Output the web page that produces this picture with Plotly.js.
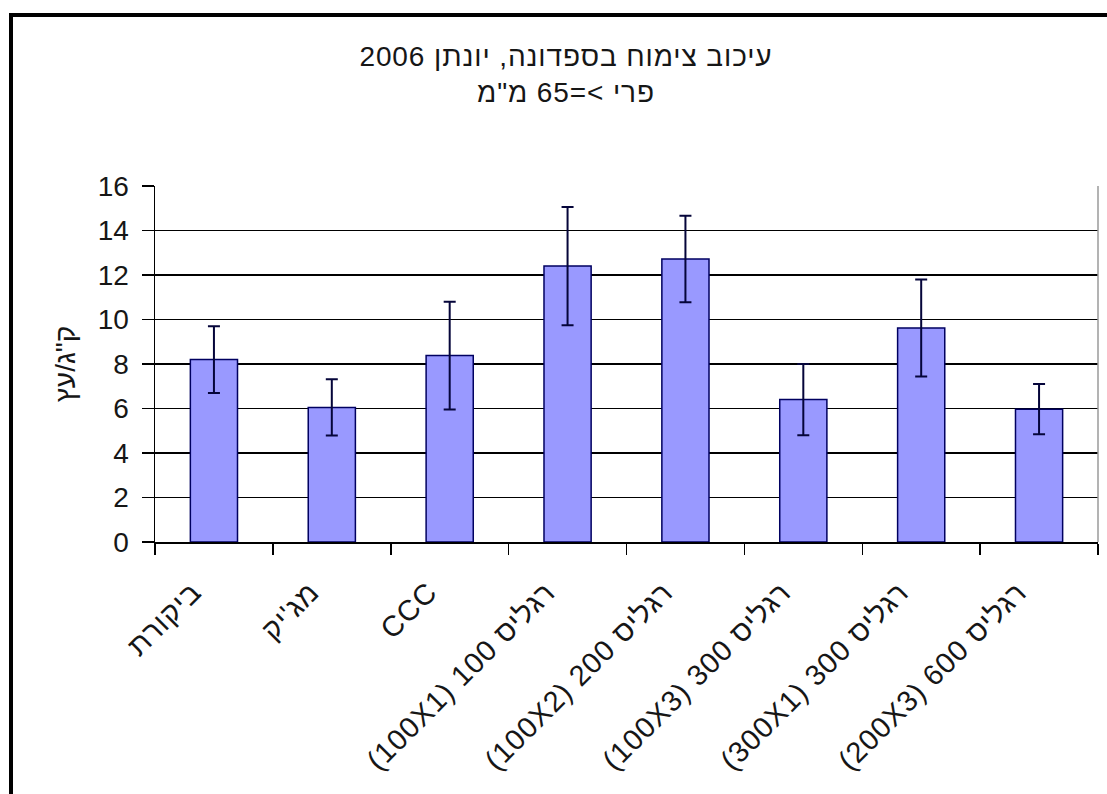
<!DOCTYPE html>
<html>
<head>
<meta charset="utf-8">
<script src="https://cdn.plot.ly/plotly-3.0.1.min.js"></script>
<style>
html,body{margin:0;padding:0;background:#fff;}
#chart{width:1107px;height:794px;}
#chart .xtick text{letter-spacing:1px;}
#chart .gtitle{letter-spacing:0.9px;}
</style>
</head>
<body>
<div id="chart"></div>
<script>
// Data
const categories = [
  "ביקורת",
  "מג'יק",
  "CCC",
  "(100X1) 100 רגליס",
  "(100X2) 200 רגליס",
  "(100X3) 300 רגליס",
  "(300X1) 300 רגליס",
  "(200X3) 600 רגליס"
];
const values = [8.2, 6.05, 8.38, 12.4, 12.72, 6.4, 9.62, 5.97];
const errors = [1.5, 1.26, 2.42, 2.66, 1.94, 1.6, 2.18, 1.13];
const yTickVals = [0, 2, 4, 6, 8, 10, 12, 14, 16];

const titleLine1 = "עיכוב צימוח בספדונה, יונתן 2006";
const titleLine2 = 'פרי >=65 מ"מ';
const yTitle = 'ק"ג/עץ';

// Layout geometry (pixels)
const W = 1107, H = 794;
const L = 155, R = 1098, T = 186, B = 542;
const pw = R - L, ph = B - T;
const px = x => (x - L) / pw;
const py = y => (B - y) / ph;

const font = "Liberation Sans, Arial, DejaVu Sans, sans-serif";
const txt = '#161616';

const trace = {
  type: 'bar',
  x: categories,
  y: values,
  marker: {color: '#9999FF', line: {color: '#000060', width: 1.5}},
  error_y: {type: 'data', array: errors, visible: true, color: '#05053a', thickness: 2, width: 6}
};

const layout = {
  width: W, height: H,
  margin: {l: L, r: W - R, t: T, b: H - B, pad: 0},
  paper_bgcolor: '#ffffff',
  plot_bgcolor: '#ffffff',
  showlegend: false,
  bargap: 0.6,
  font: {family: font, size: 28, color: txt},
  title: {
    text: titleLine1 + '<br>' + titleLine2,
    x: 566 / W, xanchor: 'center', xref: 'container',
    y: 1 - 66 / H, yanchor: 'top', yref: 'container',
    font: {family: font, size: 28, color: txt}
  },
  xaxis: {
    type: 'category',
    tickangle: -45,
    ticks: 'outside', ticklen: 11, tickcolor: '#000', tickwidth: 1.5,
    tickson: 'boundaries',
    ticklabelstandoff: 20, ticklabelshift: -21,
    showline: true, linecolor: '#000', linewidth: 1.5,
    showgrid: false, automargin: false,
    tickfont: {family: font, size: 29, color: txt}
  },
  yaxis: {
    range: [0, 16], tickvals: yTickVals,
    ticks: 'outside', ticklen: 12, tickcolor: '#000', tickwidth: 1.5,
    ticklabelstandoff: 7,
    showline: true, linecolor: '#000', linewidth: 1.5,
    showgrid: true, gridcolor: '#000', gridwidth: 1.8,
    zeroline: false, automargin: false,
    tickfont: {family: font, size: 28, color: txt},
    title: {text: yTitle, standoff: 14, font: {family: font, size: 28, color: txt}}
  },
  shapes: [
    {type: 'line', xref: 'paper', yref: 'paper', x0: 1, x1: 1, y0: 0, y1: 1,
     line: {color: '#9a9a9a', width: 1.5}},
    {type: 'rect', xref: 'paper', yref: 'paper',
     x0: px(11), x1: px(1120), y0: py(810), y1: py(15),
     line: {color: '#000', width: 4}, fillcolor: 'rgba(0,0,0,0)'}
  ]
};

Plotly.newPlot('chart', [trace], layout, {displayModeBar: false, staticPlot: true});
</script>
</body>
</html>
